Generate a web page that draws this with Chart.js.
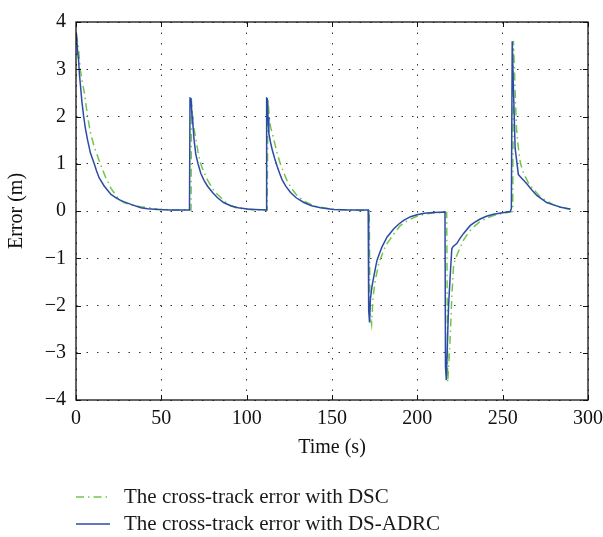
<!DOCTYPE html>
<html>
<head>
<meta charset="utf-8">
<script src="https://cdn.jsdelivr.net/npm/chart.js@4.4.1/dist/chart.umd.min.js"></script>
<style>
  html, body { margin: 0; padding: 0; background: #fff; }
</style>
</head>
<body>
<canvas id="errChart" width="603" height="537"></canvas>
<script>
// cross-track error, DS-ADRC (solid blue)
const timeADRC = [0, 0.3, 1.0, 1.5, 2.0, 2.9, 3.5, 4.5, 5.5, 6.8, 8.5, 10.7, 12.0, 13.6, 16.5, 20.5, 23.5, 26.3, 32.2, 38, 42, 47.8, 55, 66.5,
  66.8, 67.4, 68.0, 68.4, 69.2, 70.2, 71.5, 73.1, 75, 77, 80, 82.9, 86.5, 90.6, 95, 100.4, 105, 111.5,
  111.7, 112.1, 112.5, 113, 114, 115, 116.5, 117.9, 119.3, 120.8, 123, 125.7, 129, 133.5, 138, 143.3, 151, 160, 171.2,
  171.5, 172, 172.5, 173.4, 174.5, 175.5, 176.4, 177.8, 179.3, 182.3, 186.1, 189, 192, 196, 199.8, 204, 209.5, 216.2,
  216.5, 217, 217.7, 218.3, 219.3, 220.2, 221, 223.1, 225, 227, 230.9, 233.5, 236.8, 240.5, 244.6, 249, 254.4, 255.1,
  255.6, 256.3, 257.3, 258.6, 259.2, 261, 264, 267, 270, 272, 275.8, 279.7, 284, 289.5];
const errADRC = [3.75, 3.72, 3.35, 3.2, 2.9, 2.54, 2.3, 2.0, 1.75, 1.5, 1.22, 1.0, 0.85, 0.7, 0.53, 0.35, 0.28, 0.22, 0.14, 0.07, 0.05, 0.03, 0.02, 0.02,
  2.39, 2.38, 2.0, 1.88, 1.5, 1.2, 1.0, 0.8, 0.65, 0.53, 0.39, 0.28, 0.18, 0.11, 0.07, 0.04, 0.03, 0.02,
  2.39, 2.38, 1.99, 1.64, 1.45, 1.29, 1.1, 0.94, 0.8, 0.66, 0.52, 0.39, 0.28, 0.18, 0.11, 0.07, 0.03, 0.02, 0.02,
  -2.1, -2.36, -1.87, -1.6, -1.39, -1.2, -1.04, -0.9, -0.76, -0.55, -0.38, -0.28, -0.2, -0.12, -0.08, -0.05, -0.03, -0.02,
  -3.3, -3.58, -2.71, -2.01, -1.35, -0.8, -0.75, -0.69, -0.58, -0.48, -0.31, -0.24, -0.17, -0.11, -0.07, -0.04, -0.01, 0.05,
  3.59, 2.61, 1.33, 0.95, 0.77, 0.7, 0.58, 0.45, 0.33, 0.28, 0.18, 0.13, 0.08, 0.04];

// cross-track error, DSC (green dash-dot)
const timeDSC = [0, 0.6, 1.3, 2.5, 3.6, 4.9, 6.8, 8.5, 10.7, 14.2, 17.5, 20.5, 24, 28, 33, 38, 48, 58, 67.4,
  67.7, 68.4, 70.2, 71.5, 73, 75, 77, 80.9, 85.8, 89.5, 93.6, 104, 112,
  112.5, 113.2, 114, 116, 117.9, 119.9, 121.8, 123.8, 126.5, 129.6, 134, 139.4, 149, 160, 171.8,
  172.3, 173.2, 174.1, 175.4, 177.4, 180.3, 182, 184.2, 187, 190, 195, 199.8, 204, 209.5, 217.2,
  217.8, 218.5, 219.3, 220.2, 221.2, 222, 223.1, 225, 227, 230, 232.9, 236.5, 240.7, 245, 250.5, 255.9,
  256.3, 256.9, 257.5, 258.2, 259, 259.8, 260.5, 262.2, 265, 268, 272, 275.8, 280, 284, 287.5, 290];
const errDSC = [3.75, 3.65, 3.5, 3.0, 2.75, 2.5, 2.0, 1.65, 1.36, 1.0, 0.7, 0.48, 0.3, 0.18, 0.12, 0.09, 0.04, 0.02, 0.02,
  2.35, 1.89, 1.53, 1.25, 1.01, 0.82, 0.66, 0.42, 0.25, 0.13, 0.07, 0.02, 0.02,
  2.38, 2.0, 1.78, 1.5, 1.22, 0.98, 0.8, 0.63, 0.47, 0.32, 0.2, 0.11, 0.04, 0.02, 0.01,
  -2.2, -2.4, -1.81, -1.46, -1.11, -0.83, -0.7, -0.59, -0.45, -0.31, -0.19, -0.11, -0.07, -0.04, -0.03,
  -3.62, -3.2, -2.64, -1.81, -1.18, -1.05, -0.94, -0.78, -0.62, -0.45, -0.34, -0.23, -0.15, -0.09, -0.05, -0.01,
  3.6, 3.0, 2.3, 1.7, 1.4, 1.15, 1.0, 0.8, 0.6, 0.46, 0.3, 0.21, 0.13, 0.08, 0.05, 0.04];

const xTicks = [0, 50, 100, 150, 200, 250, 300];
const yTicks = [-4, -3, -2, -1, 0, 1, 2, 3, 4];
const yTickLabels = ['\u22124', '\u22123', '\u22122', '\u22121', '0', '1', '2', '3', '4'];
const legendLabels = ['The cross-track error with DSC', 'The cross-track error with DS-ADRC'];

const BLUE = '#2c4ba6';
const GREEN = '#72c64c';
const GREEN_DASH = [8, 4, 1.5, 4];
const serif = '"Liberation Serif", "DejaVu Serif", serif';

const toPoints = (ts, es) => ts.map((t, i) => ({ x: t, y: es[i] }));

// box, inward ticks on all sides, and the stacked legend under the axis
const frameAndLegend = {
  id: 'frameAndLegend',
  afterDraw(chart) {
    const { ctx, chartArea: a, scales: { x, y } } = chart;
    const len = 5;
    ctx.save();
    ctx.strokeStyle = '#111';
    ctx.lineWidth = 1;
    ctx.beginPath();
    xTicks.forEach(v => {
      const px = Math.round(x.getPixelForValue(v)) + 0.5;
      ctx.moveTo(px, a.bottom); ctx.lineTo(px, a.bottom - len);
      ctx.moveTo(px, a.top); ctx.lineTo(px, a.top + len);
    });
    yTicks.forEach(v => {
      const py = Math.round(y.getPixelForValue(v)) + 0.5;
      ctx.moveTo(a.left, py); ctx.lineTo(a.left + len, py);
      ctx.moveTo(a.right, py); ctx.lineTo(a.right - len, py);
    });
    ctx.stroke();
    ctx.lineWidth = 1.3;
    ctx.strokeRect(a.left, a.top, a.right - a.left, a.bottom - a.top);

    const rows = [
      { text: legendLabels[0], color: GREEN, dash: GREEN_DASH },
      { text: legendLabels[1], color: BLUE, dash: [] }
    ];
    ctx.font = '21px ' + serif;
    ctx.textBaseline = 'middle';
    rows.forEach((r, i) => {
      const ly = a.bottom + 97 + i * 27;
      ctx.strokeStyle = r.color;
      ctx.lineWidth = 1.5;
      ctx.setLineDash(r.dash);
      ctx.beginPath();
      ctx.moveTo(a.left, ly); ctx.lineTo(a.left + 34, ly);
      ctx.stroke();
      ctx.setLineDash([]);
      ctx.fillStyle = '#1a1a1a';
      ctx.fillText(r.text, a.left + 48, ly);
    });
    ctx.restore();
  }
};

const ctx = document.getElementById('errChart').getContext('2d');
const errChart = new Chart(ctx, {
  type: 'line',
  data: {
    datasets: [{
      label: legendLabels[1],
      data: toPoints(timeADRC, errADRC),
      borderColor: BLUE,
      borderWidth: 1.5,
      pointRadius: 0,
      tension: 0
    }, {
      label: legendLabels[0],
      data: toPoints(timeDSC, errDSC),
      borderColor: GREEN,
      borderWidth: 1.5,
      borderDash: GREEN_DASH,
      pointRadius: 0,
      tension: 0
    }]
  },
  options: {
    responsive: false,
    animation: false,
    devicePixelRatio: 1,
    layout: { padding: { top: 17, right: 0, left: 0, bottom: 77 } },
    plugins: { legend: { display: false }, tooltip: { enabled: false } },
    scales: {
      x: {
        type: 'linear',
        min: 0,
        max: 300,
        afterFit: s => { s.height = 60; s.paddingRight = 15; },
        afterBuildTicks: s => { s.ticks = xTicks.map(v => ({ value: v })); },
        ticks: { padding: 7, color: '#111', font: { family: serif, size: 20 } },
        grid: { color: '#333', lineWidth: 1, drawTicks: false },
        border: { display: false, dash: [1.5, 9] },
        title: { display: true, text: 'Time (s)', color: '#111', font: { family: serif, size: 20 }, padding: { top: 2, bottom: 0 } }
      },
      y: {
        min: -4,
        max: 4,
        afterFit: s => { s.width = 76; },
        afterBuildTicks: s => { s.ticks = yTicks.map(v => ({ value: v })); },
        ticks: {
          padding: 10,
          color: '#111',
          font: { family: serif, size: 20 },
          callback: v => yTickLabels[yTicks.indexOf(v)]
        },
        grid: { color: '#333', lineWidth: 1, drawTicks: false },
        border: { display: false, dash: [1.5, 9] },
        title: { display: true, text: 'Error (m)', color: '#111', font: { family: serif, size: 20 }, padding: { top: 5, bottom: 0 } }
      }
    }
  },
  plugins: [frameAndLegend]
});
</script>
</body>
</html>
